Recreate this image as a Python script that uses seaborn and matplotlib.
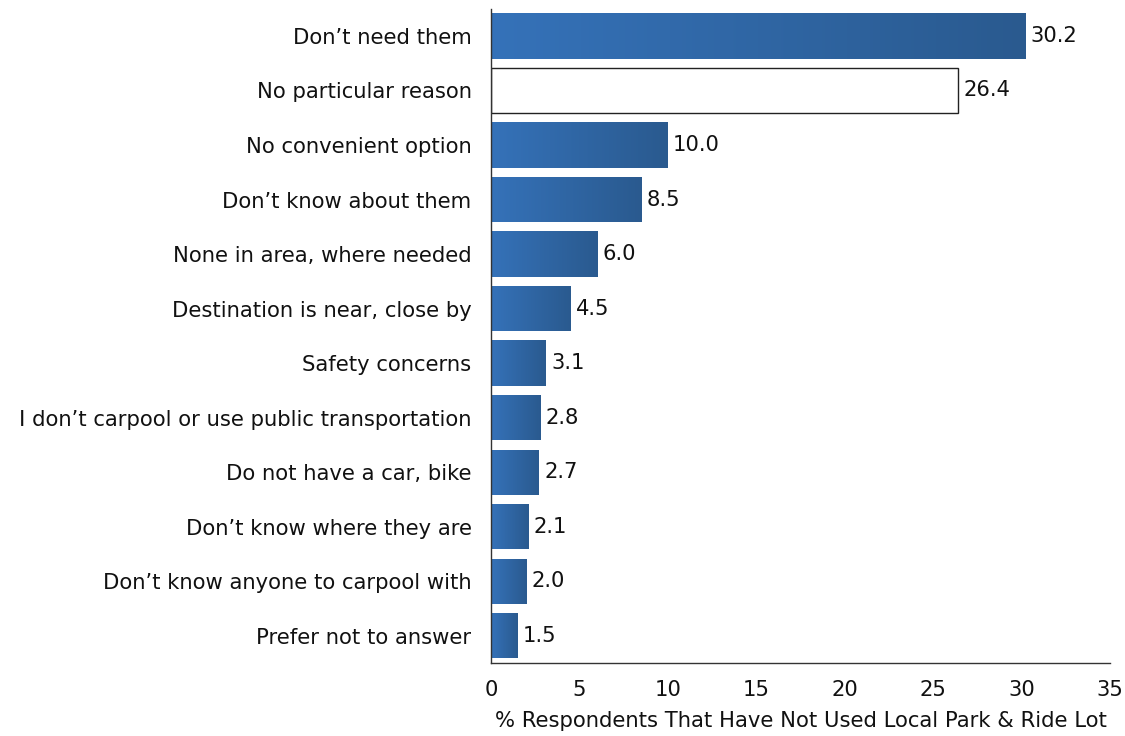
import numpy as np
import pandas as pd
import matplotlib
matplotlib.use("Agg")
import matplotlib.pyplot as plt
from matplotlib.colors import LinearSegmentedColormap
import seaborn as sns

reasons = [
    "Don\u2019t need them",
    "No particular reason",
    "No convenient option",
    "Don\u2019t know about them",
    "None in area, where needed",
    "Destination is near, close by",
    "Safety concerns",
    "I don\u2019t carpool or use public transportation",
    "Do not have a car, bike",
    "Don\u2019t know where they are",
    "Don\u2019t know anyone to carpool with",
    "Prefer not to answer",
]
percents = [30.2, 26.4, 10.0, 8.5, 6.0, 4.5, 3.1, 2.8, 2.7, 2.1, 2.0, 1.5]
x_ticks = [0, 5, 10, 15, 20, 25, 30, 35]
xlabel = "% Respondents That Have Not Used Local Park & Ride Lot"

df = pd.DataFrame({"reason": reasons, "pct": percents})

sns.set_theme(style="white")
plt.rcParams["font.family"] = ["DejaVu Sans"]
FS = 15.2

fig = plt.figure(figsize=(11.25, 7.36), dpi=100)
ax = fig.add_axes([0.4364, 0.0992, 0.5503, 0.8890])

sns.barplot(data=df, x="pct", y="reason", orient="h", ax=ax,
            color="#3370b6", width=0.83, saturation=1)

blue_grad = LinearSegmentedColormap.from_list("bar_blue", ["#3572b9", "#2a5a8f"])
grad = np.linspace(0, 1, 256).reshape(1, -1)

for i, patch in enumerate(ax.patches):
    x0, y0 = patch.get_x(), patch.get_y()
    w, h = patch.get_width(), patch.get_height()
    if i == 1:
        patch.set_facecolor("white")
        patch.set_edgecolor("#222222")
        patch.set_linewidth(1.0)
    else:
        patch.set_edgecolor("none")
        im = ax.imshow(grad, cmap=blue_grad, aspect="auto",
                       extent=[x0, x0 + w, y0 + h, y0], zorder=patch.get_zorder() + 0.1,
                       interpolation="bicubic")
        im.set_clip_path(patch)
    ax.text(x0 + w + 0.3, y0 + h / 2, f"{percents[i]:.1f}", va="center", ha="left",
            fontsize=FS, color="#111111")

ax.set_xlim(0, 35)
ax.set_ylim(11.5, -0.5)
ax.set_xticks(x_ticks)
ax.set_xticklabels([str(t) for t in x_ticks], fontsize=FS, color="#111111")
ax.tick_params(axis="x", length=0, pad=12)
ax.tick_params(axis="y", length=0, pad=14, labelsize=FS, labelcolor="#111111")
ax.set_ylabel("")
ax.set_xlabel(xlabel, fontsize=FS, color="#111111", labelpad=8)

for side in ["top", "right"]:
    ax.spines[side].set_visible(False)
for side in ["left", "bottom"]:
    ax.spines[side].set_color("#333333")
    ax.spines[side].set_linewidth(1.0)

fig.savefig("out.png", dpi=100)
